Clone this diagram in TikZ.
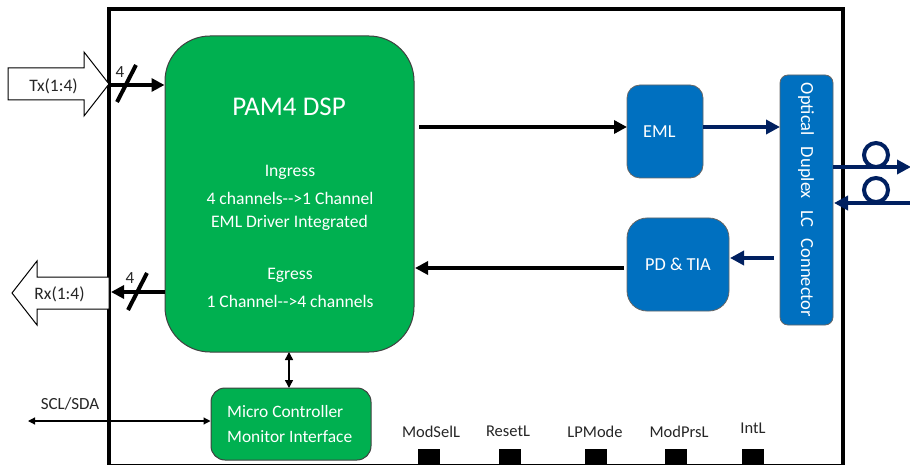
\documentclass[tikz,border=0pt]{standalone}
\usepackage{fontspec}
\setmainfont{Carlito}
\usetikzlibrary{arrows.meta}
\definecolor{grn}{HTML}{00B050}
\definecolor{blu}{HTML}{0070C0}
\definecolor{nvy}{HTML}{002060}
\definecolor{txt}{HTML}{262626}
\tikzset{
 gbox/.style={draw=black!75,line width=1pt,fill=grn,inner sep=0pt,text=white},
 bbox/.style={draw=black!60,line width=.8pt,fill=blu,inner sep=0pt,text=white,font=\fontsize{18.3}{18}\selectfont},
 bigarrow/.style={draw=black,line width=1pt,fill=white},
 lbl/.style={text=txt,font=\fontsize{16.5}{16}\selectfont,inner sep=0pt},
 thick arr/.style={line width=4.5pt,-{Triangle[length=13pt,width=13pt]}},
 navy arr/.style={draw=nvy,line width=4pt,-{Triangle[length=14pt,width=14pt]}},
 pin/.style={fill=black,draw=none,minimum width=22pt,minimum height=15pt,inner sep=0pt},
 wt/.style={text=white,inner sep=0pt,font=\fontsize{17.6}{17}\selectfont},
}
\begin{document}
\begin{tikzpicture}[x=1pt,y=-1pt]
\useasboundingbox (0,0) rectangle (910,465);
\fill[white] (0,0) rectangle (910,465);
% frame
\draw[line width=3.5pt] (109,465) -- (109,9) -- (843,9) -- (843,465);
\draw[line width=.8pt] (109,464.6) -- (843,464.6);
% big arrows
\draw[bigarrow] (8,68) -- (84,68) -- (84,52) -- (109,84) -- (84,116) -- (84,100) -- (8,100) -- cycle;
\draw[bigarrow] (12,293) -- (37,261) -- (37,277) -- (109,277) -- (109,309) -- (37,309) -- (37,325) -- cycle;
\node[lbl,font=\fontsize{17.5}{17}\selectfont] (tx) at (53.5,86) {Tx(1:4)};
\node[lbl,font=\fontsize{17.5}{17}\selectfont] (rx) at (59.5,294) {Rx(1:4)};
% blocks
\node[gbox,rounded corners=45pt,minimum width=249pt,minimum height=316pt] (dsp) at (289.5,194) {};
\node[wt,font=\fontsize{27}{27}\selectfont] (t0) at (289,107) {PAM4 DSP};
\node[wt] (t1) at (290,172) {Ingress};
\node[wt] (t2) at (290,198) {4 channels-{}->1 Channel};
\node[wt] (t3) at (289.5,223) {EML Driver Integrated};
\node[wt] (t4) at (290,275.5) {Egress};
\node[wt] (t5) at (290,301) {1 Channel-{}->4 channels};
\node[gbox,rounded corners=14pt,minimum width=160pt,minimum height=72pt] (mcu) at (291,424) {};
\node[wt,anchor=west,font=\fontsize{17.4}{17}\selectfont] (m1) at (227,412) {Micro Controller};
\node[wt,anchor=west,font=\fontsize{17.4}{17}\selectfont] (m2) at (227,437) {Monitor Interface};
\node[bbox,rounded corners=13pt,minimum width=76pt,minimum height=93pt] (eml) at (665,131.5) {};
\node[wt,anchor=west,font=\fontsize{18.3}{18}\selectfont] (emlt) at (643,132) {EML};
\node[bbox,rounded corners=20pt,minimum width=102pt,minimum height=93pt] (pd) at (678,264.5) {PD \& TIA};
\node[bbox,rounded corners=8pt,minimum width=53pt,minimum height=250pt] (lc) at (806.5,200) {};
\node[wt,rotate=-90,font=\fontsize{18.5}{18}\selectfont] (lct) at (806,200) {Optical\hspace{7pt} Duplex\hspace{7pt} LC\hspace{7pt} Connector};
% coordinates
\coordinate (txs) at (110,85);
\coordinate (rxe) at (111,292);
\coordinate (dspr1) at (419,127);
\coordinate (emll) at (627,127);
\coordinate (pdl) at (624,268);
\coordinate (dspr2) at (415,268);
\coordinate (emlr) at (703,127);
\coordinate (lcl1) at (780,127);
\coordinate (lcl2) at (774,258);
\coordinate (pdr) at (730,258);
\coordinate (f1a) at (833,167);
\coordinate (f1b) at (911,167);
\coordinate (f2a) at (910,203);
\coordinate (f2b) at (834,203);
\coordinate (scl) at (28,421);
% connectors
\draw[thick arr] (txs) -- (dsp.west |- txs);
\draw[line width=4pt] (117,102) -- (136,65);
\node[lbl,font=\fontsize{17}{17}\selectfont] (n4a) at (120,72) {4};
\draw[thick arr] (dsp.west |- rxe) -- (rxe);
\draw[line width=4pt] (128,310) -- (147,273);
\node[lbl,font=\fontsize{17}{17}\selectfont] (n4b) at (130,278) {4};
\draw[thick arr] (dspr1) -- (emll);
\draw[thick arr] (pdl) -- (dspr2);
\draw[navy arr] (emlr) -- (lcl1);
\draw[navy arr] (lcl2) -- (pdr);
\draw[navy arr] (f1a) -- (f1b);
\draw[navy arr] (f2a) -- (f2b);
\draw[nvy,line width=4pt] (876,155) circle (12);
\draw[nvy,line width=4pt] (876,190) circle (12);
\draw[line width=1.5pt,{Triangle[length=8pt,width=8pt]}-{Triangle[length=8pt,width=8pt]}] (289,352) -- (289,388);
\draw[line width=1.2pt,{Triangle[length=7pt,width=7pt]}-{Triangle[length=7pt,width=7pt]}] (scl) -- (mcu.west |- scl);
\node[lbl,font=\fontsize{17}{17}\selectfont] (scll) at (70,404) {SCL/SDA};
% pins
\node[pin] (p1) at (429,456.5) {};
\node[pin] (p2) at (510,456.5) {};
\node[pin] (p3) at (595.5,456.5) {};
\node[pin] (p4) at (676,456.5) {};
\node[pin] (p5) at (753,456) {};
\node[lbl] (l1) at (431,431.5) {ModSelL};
\node[lbl] (l2) at (508,431.5) {ResetL};
\node[lbl] (l3) at (595,431.5) {LPMode};
\node[lbl] (l4) at (679,431.5) {ModPrsL};
\node[lbl] (l5) at (753,428.5) {IntL};
\end{tikzpicture}
\end{document}
